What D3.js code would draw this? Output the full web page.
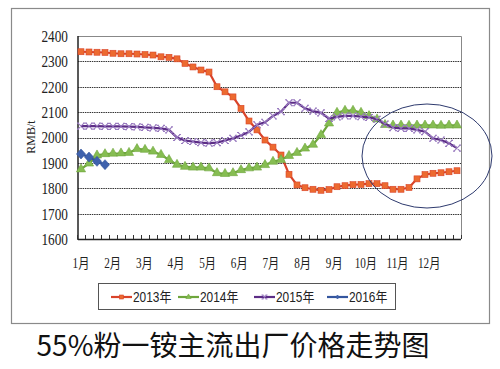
<!DOCTYPE html>
<html lang="zh">
<head>
<meta charset="UTF-8">
<title>55%粉一铵主流出厂价格走势图</title>
<script src="https://d3js.org/d3.v7.min.js"></script>
<style>
  body { margin: 0; background: #fff; }
  svg { display: block; }
</style>
</head>
<body>
<svg id="chart" width="500" height="369"></svg>
<script>
// weekly prices, 4 points per month, 48 weeks
var months = ["1月", "2月", "3月", "4月", "5月", "6月", "7月", "8月", "9月", "10月", "11月", "12月"];
var yTicks = [1600, 1700, 1800, 1900, 2000, 2100, 2200, 2300, 2400];

var s2013 = [2338, 2337, 2336, 2335, 2332, 2330, 2330, 2329, 2327, 2325, 2318, 2316,
             2310, 2292, 2278, 2266, 2258, 2200, 2180, 2160, 2115, 2065, 2030, 1990,
             1962, 1931, 1855, 1813, 1802, 1796, 1792, 1795, 1806, 1810, 1814, 1815,
             1818, 1818, 1810, 1796, 1796, 1803, 1837, 1854, 1859, 1861, 1865, 1869];
var s2014 = [1875, 1898, 1930, 1935, 1937, 1938, 1940, 1955, 1952, 1945, 1932, 1912,
             1893, 1885, 1882, 1882, 1879, 1860, 1857, 1860, 1872, 1879, 1882, 1892,
             1905, 1912, 1928, 1940, 1957, 1972, 2010, 2056, 2098, 2106, 2106, 2098,
             2085, 2072, 2050, 2048, 2048, 2047, 2048, 2048, 2048, 2047, 2048, 2048];
var s2015 = [2045, 2045, 2045, 2044, 2044, 2044, 2043, 2042, 2040, 2038, 2036, 2030,
             2000, 1988, 1984, 1980, 1978, 1980, 1988, 1997, 2008, 2022, 2050, 2060,
             2085, 2102, 2137, 2137, 2115, 2104, 2097, 2075, 2081, 2085, 2085, 2082,
             2079, 2072, 2053, 2039, 2036, 2036, 2030, 2023, 1997, 1990, 1977, 1958];
var s2016 = [1935, 1923, 1906, 1893];

var seriesNames = ["2013年", "2014年", "2015年", "2016年"];
var lineColors = ["#d9432a", "#6ea63c", "#5c2d86", "#34569e"];
var markColors = ["#ec6a30", "#86bd52", "#9a7cc0", "#3f62ad"];
var markers = ["square", "triangle", "cross", "diamond"];
var allSeries = [s2013, s2014, s2015, s2016];

var title = "55%粉一铵主流出厂价格走势图";

var svg = d3.select("#chart");
var serif = "'Liberation Serif', 'Noto Sans CJK SC', serif";

// outer frame
svg.append("rect")
    .attr("x", 11.5).attr("y", 8.5)
    .attr("width", 478).attr("height", 315)
    .attr("fill", "none").attr("stroke", "#8a8a8a").attr("stroke-width", 1.2);

var x = d3.scaleBand().domain(d3.range(48)).range([77, 461]);
var y = d3.scaleLinear().domain([1600, 2400]).range([239, 36]);
var cx = function (i) { return x(i) + x.bandwidth() / 2; };

// grid lines
svg.append("g").selectAll("line")
    .data(yTicks.slice(1, -1))
    .enter().append("line")
    .attr("x1", 78).attr("x2", 461)
    .attr("y1", function (d) { return Math.round(y(d)) + 0.5; })
    .attr("y2", function (d) { return Math.round(y(d)) + 0.5; })
    .attr("stroke", "#333").attr("stroke-width", 1.1)
    .attr("stroke-dasharray", "1.5,0.8");

// plot border top / right
svg.append("path")
    .attr("d", "M78," + (y(2400) + 0.5) + "H461.5V" + y(1600))
    .attr("fill", "none").attr("stroke", "#888").attr("stroke-width", 1);

// axes lines
svg.append("line").attr("x1", 78).attr("x2", 78).attr("y1", y(2400)).attr("y2", y(1600) + 1)
    .attr("stroke", "#222").attr("stroke-width", 1.5);
svg.append("line").attr("x1", 78).attr("x2", 461).attr("y1", y(1600) + 0.5).attr("y2", y(1600) + 0.5)
    .attr("stroke", "#222").attr("stroke-width", 1.5);

// small ticks along the category axis
svg.append("g").selectAll("line")
    .data(d3.range(49))
    .enter().append("line")
    .attr("x1", function (d) { return x.range()[0] + d * x.step() + 0.5; })
    .attr("x2", function (d) { return x.range()[0] + d * x.step() + 0.5; })
    .attr("y1", y(1600)).attr("y2", y(1600) - 4)
    .attr("stroke", "#333").attr("stroke-width", 1);

// y tick labels (narrow, tall serif like the original)
svg.append("g").selectAll("text")
    .data(yTicks)
    .enter().append("text")
    .attr("transform", function (d) { return "translate(68," + y(d) + ") scale(0.78,1)"; })
    .attr("dy", "0.35em")
    .attr("text-anchor", "end")
    .style("font-family", serif).style("font-size", "17px").attr("fill", "#222")
    .text(function (d) { return d; });

// month labels
svg.append("g").selectAll("text")
    .data(months)
    .enter().append("text")
    .attr("transform", function (d, i) { return "translate(" + (cx(i * 4) - i * 0.35) + ",263) scale(0.8,1)"; })
    .attr("dy", "0.35em")
    .attr("text-anchor", "middle")
    .style("font-family", serif).style("font-size", "14px").attr("fill", "#222")
    .text(function (d) { return d; });

// y axis title
svg.append("text")
    .attr("transform", "translate(31,137) rotate(-90)")
    .attr("text-anchor", "middle").attr("dy", "0.35em")
    .style("font-family", serif).style("font-size", "12px").attr("fill", "#222")
    .text("RMB/t");

function drawMarker(g, type, fill, stroke, size) {
    if (type == "square") {
        g.append("rect").attr("x", -size / 2).attr("y", -size / 2)
            .attr("width", size).attr("height", size)
            .attr("fill", fill).attr("stroke", stroke).attr("stroke-width", 0.6);
    } else if (type == "triangle") {
        g.append("path").attr("d", d3.symbol().type(d3.symbolTriangle).size(size * size * 0.75)())
            .attr("fill", fill).attr("stroke", stroke).attr("stroke-width", 0.6);
    } else if (type == "cross") {
        var h = size / 2;
        g.append("path")
            .attr("d", "M" + (-h) + "," + (-h) + "L" + h + "," + h + "M" + (-h) + "," + h + "L" + h + "," + (-h) +
                "M" + (-h - 1) + "," + (-h) + "H" + (-h + 1) + "M" + (h - 1) + "," + (-h) + "H" + (h + 1) +
                "M" + (-h - 1) + "," + h + "H" + (-h + 1) + "M" + (h - 1) + "," + h + "H" + (h + 1))
            .attr("fill", "none").attr("stroke", fill).attr("stroke-width", 1.1);
    } else {
        g.append("path").attr("d", "M0," + (-size / 2) + "L" + (size / 2.2) + ",0L0," + (size / 2) + "L" + (-size / 2.2) + ",0Z")
            .attr("fill", fill).attr("stroke", stroke).attr("stroke-width", 0.6);
    }
}

var markerSize = [6, 7, 6, 10];
var line = d3.line().x(function (d, i) { return cx(i); }).y(function (d) { return y(d); });

allSeries.forEach(function (s, k) {
    var g = svg.append("g");
    g.append("path").datum(s)
        .attr("d", line)
        .attr("fill", "none").attr("stroke", lineColors[k]).attr("stroke-width", 2.2);
    s.forEach(function (v, i) {
        var m = g.append("g").attr("transform", "translate(" + cx(i) + "," + y(v) + ")");
        drawMarker(m, markers[k], markColors[k], lineColors[k], markerSize[k]);
    });
});

// hand drawn ellipse highlighting the end of the year
svg.append("ellipse")
    .attr("cx", 427).attr("cy", 156).attr("rx", 65).attr("ry", 52)
    .attr("fill", "none").attr("stroke", "#2e3a6e").attr("stroke-width", 1);

// legend
svg.append("rect")
    .attr("x", 98.5).attr("y", 283.5).attr("width", 297).attr("height", 26)
    .attr("fill", "#fff").attr("stroke", "#555").attr("stroke-width", 1);

var legendStart = [111, 178, 254, 327];
seriesNames.forEach(function (name, k) {
    var g = svg.append("g").attr("transform", "translate(" + legendStart[k] + ",297)");
    g.append("line").attr("x1", 0).attr("x2", 21).attr("y1", 0).attr("y2", 0)
        .attr("stroke", lineColors[k]).attr("stroke-width", 2.2);
    var m = g.append("g").attr("transform", "translate(10.5,0)");
    drawMarker(m, markers[k], markColors[k], lineColors[k], 4);
    g.append("text").attr("transform", "translate(22,0) scale(0.85,1)").attr("dy", "0.36em")
        .style("font-family", "'Liberation Sans', 'Noto Sans CJK SC', sans-serif")
        .style("font-size", "14px").attr("fill", "#222")
        .text(name);
});

// caption
svg.append("text")
    .attr("x", 233).attr("y", 356)
    .attr("text-anchor", "middle")
    .style("font-family", "'Noto Sans CJK SC', 'Noto Sans', sans-serif")
    .style("font-size", "28px").attr("fill", "#111")
    .text(title);
</script>
</body>
</html>
